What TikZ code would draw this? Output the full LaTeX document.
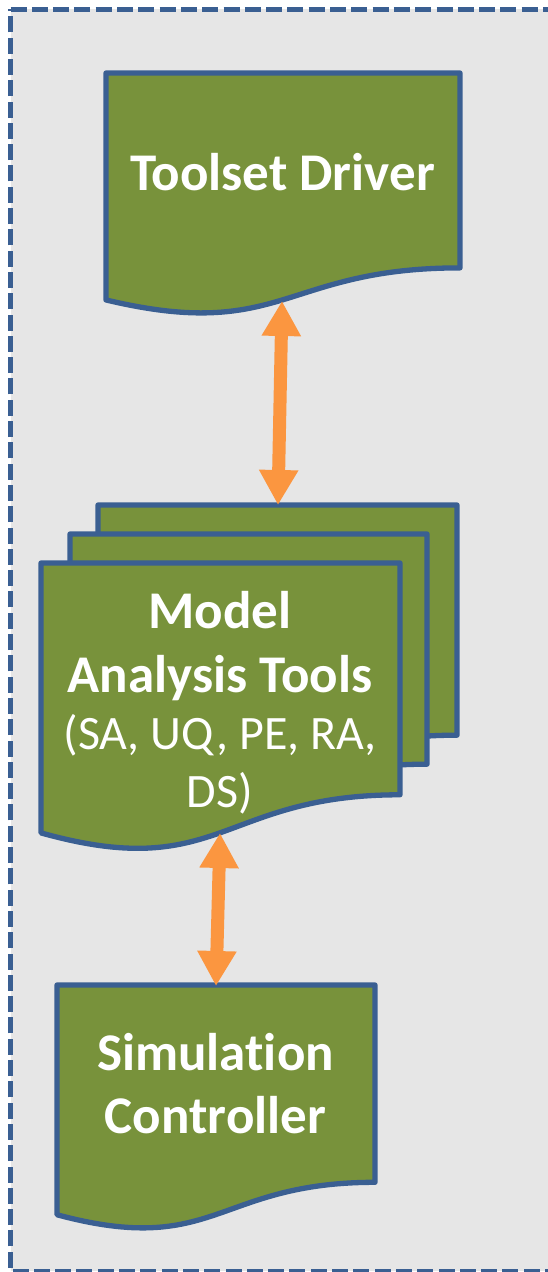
\documentclass[tikz,border=0pt]{standalone}
\usepackage{fontspec}
\setmainfont[Ligatures=NoCommon]{Carlito}
\usetikzlibrary{arrows.meta}
\definecolor{panelgray}{HTML}{E6E6E6}
\definecolor{boxgreen}{HTML}{78923B}
\definecolor{boxblue}{HTML}{3A5F92}
\definecolor{arroworange}{HTML}{FB9640}
\newcommand{\docshape}[4]{% x, y, w, h
  \pgfmathsetmacro{\docxr}{#1+#3}
  \pgfmathsetmacro{\docxm}{#1+0.5*#3}
  \pgfmathsetmacro{\docya}{#2+0.802*#4}
  \pgfmathsetmacro{\docyb}{#2+1.1075*#4}
  \pgfmathsetmacro{\docyc}{#2+0.9339*#4}
  \draw[docstyle] (#1,#2) -- (\docxr,#2) -- (\docxr,\docya)
    .. controls (\docxm,\docya) and (\docxm,\docyb) .. (#1,\docyc) -- cycle;}
\tikzset{
  docstyle/.style={draw=boxblue,fill=boxgreen,line width=5.3pt,line join=round},
  panelstyle/.style={draw=boxblue,fill=panelgray,line width=5pt,dash pattern=on 16pt off 5.3pt,line join=round},
  biarrow/.style={draw=arroworange,line width=13pt,{Triangle[length=35pt,width=37pt]}-{Triangle[length=35pt,width=37pt]}},
  boldlabel/.style={text=white,font=\fontsize{53}{63}\selectfont\bfseries,align=center,inner sep=0pt,anchor=base},
  thinlabel/.style={text=white,font=\fontsize{48}{58}\selectfont,align=center,inner sep=0pt,anchor=base}
}
\begin{document}
\begin{tikzpicture}[x=1pt,y=-1pt]
\useasboundingbox (0,0) rectangle (548,1272);
\begin{scope}
\clip (0,0) rectangle (548,1272);
\draw[panelstyle] (10.5,9) -- (560,9) -- (560,1271) -- (10.5,1271) -- cycle;
\end{scope}
\docshape{106}{73}{354}{243}
\docshape{98}{505}{359}{287}
\docshape{70}{534}{357}{287}
\docshape{41}{563}{359}{289}
\docshape{57}{985}{318}{246}
\node[boldlabel] (driver) at (282.5,190) {Toolset Driver};
\node[boldlabel] (model) at (220,628) {Model};
\node[boldlabel] (analysis) at (220,692) {Analysis Tools};
\node[thinlabel] (scope1) at (220,749.5) {(SA, UQ, PE, RA,};
\node[thinlabel] (scope2) at (220,807) {DS)};
\node[boldlabel] (simulation) at (215.5,1070) {Simulation};
\node[boldlabel] (controller) at (215.5,1133.5) {Controller};
\coordinate (driverbottom) at (282,301);
\coordinate (stacktop) at (278,505);
\coordinate (stackbottom) at (220,833);
\coordinate (simtop) at (216,986);
\draw[biarrow] (driverbottom) -- (stacktop);
\draw[biarrow] (stackbottom) -- (simtop);
\end{tikzpicture}
\end{document}
